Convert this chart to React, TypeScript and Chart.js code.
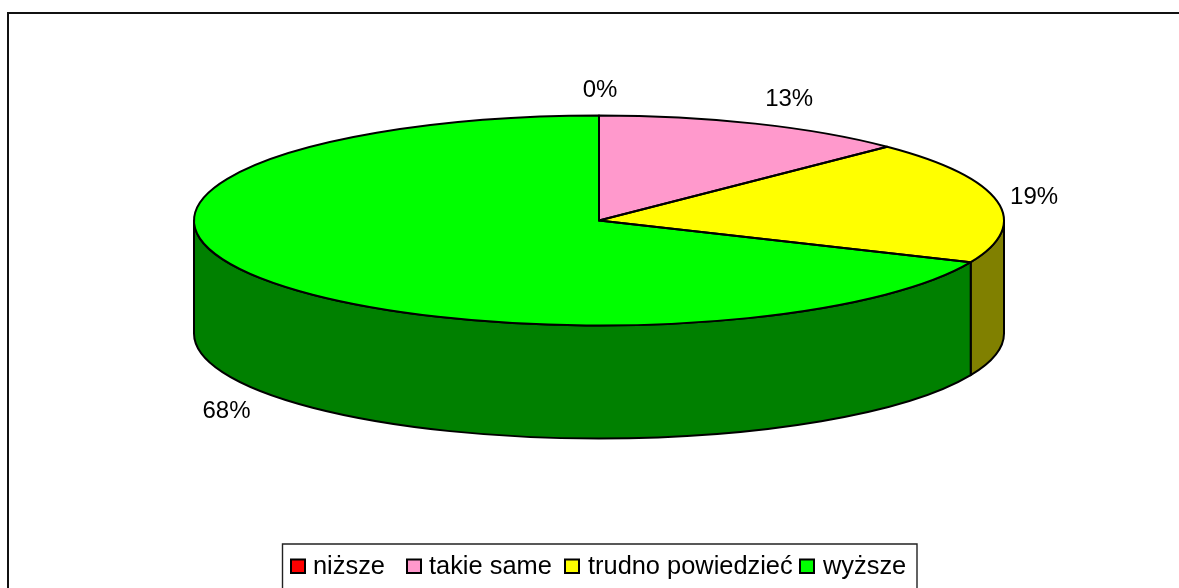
import React, { useEffect, useRef } from "react";
import { Chart, registerables } from "chart.js";

Chart.register(...registerables);

const categories = ["niższe", "takie same", "trudno powiedzieć", "wyższe"];
const shares = [0, 12.6, 18.9, 68.5];
const valueLabels = ["0%", "13%", "19%", "68%"];
const topColors = ["#FF0000", "#FF99CC", "#FFFF00", "#00FF00"];
const sideColors = ["#800000", "#804D66", "#808000", "#008000"];

const FONT = '"Liberation Sans", Arial, sans-serif';
const CX = 599;
const CY = 220.5;
const RX = 405;
const RY = 105;
const DEPTH = 113;
const LINE = 2;

// label offset from the rim point at each slice's mid angle
const labelDx = [1, 34, 37, -34];
const labelDy = [-25, -24, -4, 133];
// legend layout
const legendSwatchX = [291, 407, 565, 800];
const legendTextX = [313, 429, 588, 823];

const pie3d = {
  id: "pie3d",
  beforeDraw(chart: any) {
    const { ctx, width, height } = chart;
    ctx.save();
    ctx.fillStyle = "#fff";
    ctx.fillRect(0, 0, width, height);
    ctx.strokeStyle = "#111";
    ctx.lineWidth = 2;
    ctx.beginPath();
    ctx.moveTo(8, height);
    ctx.lineTo(8, 13);
    ctx.lineTo(width, 13);
    ctx.stroke();
    ctx.restore();
  },
  beforeDatasetDraw(chart: any) {
    const { ctx } = chart;
    const arcs = chart.getDatasetMeta(0).data;
    ctx.save();
    ctx.lineWidth = LINE;
    ctx.strokeStyle = "#000";
    ctx.lineJoin = "round";
    arcs.forEach((el: any, i: number) => {
      const lo = Math.max(el.startAngle, 0);
      const hi = Math.min(el.endAngle, Math.PI);
      if (hi <= lo) return;
      ctx.beginPath();
      ctx.ellipse(CX, CY, RX, RY, 0, lo, hi);
      ctx.ellipse(CX, CY + DEPTH, RX, RY, 0, hi, lo, true);
      ctx.closePath();
      ctx.fillStyle = sideColors[i];
      ctx.fill();
      ctx.stroke();
    });
    ctx.restore();
    const first = arcs[0];
    ctx.save();
    ctx.translate(CX, CY);
    ctx.scale(1, RY / first.outerRadius);
    ctx.translate(-first.x, -first.y);
  },
  afterDatasetDraw(chart: any) {
    const { ctx } = chart;
    const arcs = chart.getDatasetMeta(0).data;
    ctx.restore();
    ctx.save();
    ctx.lineWidth = LINE;
    ctx.strokeStyle = "#000";
    ctx.lineJoin = "round";
    arcs.forEach((el: any) => {
      if (el.endAngle - el.startAngle <= 0) return;
      ctx.beginPath();
      ctx.moveTo(CX, CY);
      ctx.ellipse(CX, CY, RX, RY, 0, el.startAngle, el.endAngle);
      ctx.closePath();
      ctx.stroke();
    });
    // value labels
    ctx.fillStyle = "#000";
    ctx.font = `24px ${FONT}`;
    ctx.textAlign = "center";
    ctx.textBaseline = "middle";
    arcs.forEach((el: any, i: number) => {
      const mid = (el.startAngle + el.endAngle) / 2;
      const x = CX + RX * Math.cos(mid) + labelDx[i];
      const y = CY + RY * Math.sin(mid) + labelDy[i];
      ctx.fillText(valueLabels[i], x, y);
    });
    ctx.restore();
  },
  afterDraw(chart: any) {
    const { ctx, height } = chart;
    ctx.save();
    // legend frame
    ctx.strokeStyle = "#222";
    ctx.lineWidth = 1.4;
    ctx.beginPath();
    ctx.moveTo(282.5, height);
    ctx.lineTo(282.5, 544);
    ctx.lineTo(917, 544);
    ctx.lineTo(917, height);
    ctx.stroke();
    ctx.font = `25.4px ${FONT}`;
    ctx.textAlign = "left";
    ctx.textBaseline = "alphabetic";
    categories.forEach((name, i) => {
      ctx.fillStyle = topColors[i];
      ctx.strokeStyle = "#000";
      ctx.lineWidth = 2;
      ctx.fillRect(legendSwatchX[i], 559.5, 14, 13.5);
      ctx.strokeRect(legendSwatchX[i], 559.5, 14, 13.5);
      ctx.fillStyle = "#000";
      ctx.fillText(name, legendTextX[i], 574);
    });
    ctx.restore();
  },
};

export default function App() {
  const ref = useRef<HTMLCanvasElement | null>(null);
  useEffect(() => {
    const chart = new Chart(ref.current as HTMLCanvasElement, {
      type: "pie",
      data: {
        labels: categories,
        datasets: [
          {
            data: shares,
            backgroundColor: topColors,
            borderWidth: 0,
            clip: false,
          } as any,
        ],
      },
      options: {
        animation: false,
        responsive: false,
        devicePixelRatio: 1,
        radius: RX,
        plugins: {
          legend: { display: false },
          title: { display: false },
          tooltip: { enabled: false },
        },
      } as any,
      plugins: [pie3d],
    });
    return () => chart.destroy();
  }, []);
  return (
    <div style={{ position: "absolute", left: 0, top: 0, width: 1179, height: 588, overflow: "hidden", background: "#fff" }}>
      <canvas ref={ref} width={1179} height={588} style={{ display: "block" }} />
    </div>
  );
}
